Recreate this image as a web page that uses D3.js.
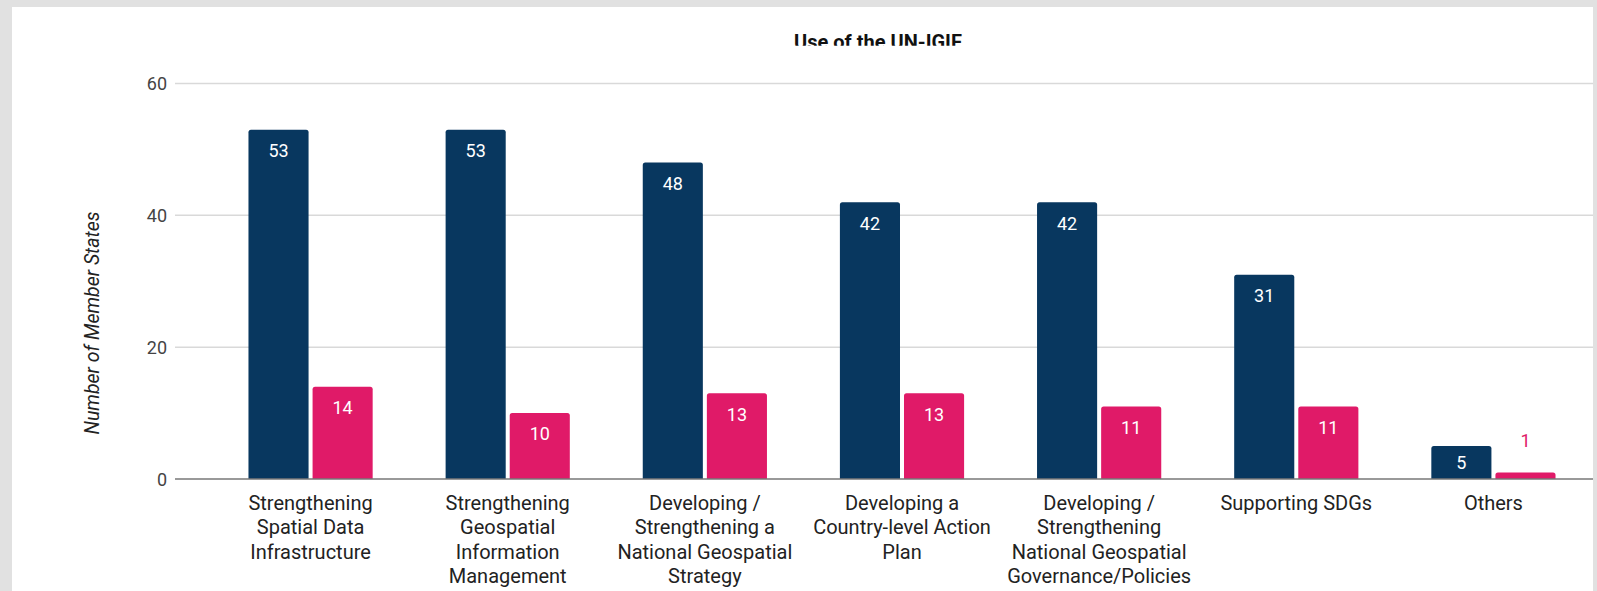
<!DOCTYPE html>
<html>
<head>
<meta charset="utf-8">
<script src="https://cdn.jsdelivr.net/npm/d3@7"></script>
<style>
  html, body { margin: 0; padding: 0; background: #e1e1e1; }
  svg { display: block; }
</style>
</head>
<body>
<svg id="chart" width="1597" height="591"></svg>
<script>
// ---- data ----
const categories = [
  "Strengthening Spatial Data Infrastructure",
  "Strengthening Geospatial Information Management",
  "Developing / Strengthening a National Geospatial Strategy",
  "Developing a Country-level Action Plan",
  "Developing / Strengthening National Geospatial Governance/Policies",
  "Supporting SDGs",
  "Others"
];
const categoryLines = [
  ["Strengthening", "Spatial Data", "Infrastructure"],
  ["Strengthening", "Geospatial", "Information", "Management"],
  ["Developing /", "Strengthening a", "National Geospatial", "Strategy"],
  ["Developing a", "Country-level Action", "Plan"],
  ["Developing /", "Strengthening", "National Geospatial", "Governance/Policies"],
  ["Supporting SDGs"],
  ["Others"]
];
const seriesNames = ["Series A", "Series B"];
const seriesA = [53, 53, 48, 42, 42, 31, 5];
const seriesB = [14, 10, 13, 13, 11, 11, 1];
const yTicks = [0, 20, 40, 60];
const title = "Use of the UN-IGIF";
const yTitle = "Number of Member States";
const colors = ["#08375f", "#e01a68"];

// ---- drawing ----
const svg = d3.select("#chart");
const W = 1597, H = 591;

// white panel
svg.append("rect").attr("x", 12).attr("y", 7).attr("width", 1593 - 12).attr("height", H - 7).attr("fill", "#ffffff");

const y = d3.scaleLinear().domain([0, 60]).range([479, 83.5]);
const x0 = d3.scaleBand().domain(categories).range([212, 1592]).paddingInner(0.37).paddingOuter(0.185);
const x1 = d3.scaleBand().domain(seriesNames).range([0, x0.bandwidth()]).paddingInner(0.0625).paddingOuter(0);

// gridlines
const gridX0 = 175, gridX1 = 1593;
svg.append("g").selectAll("line").data(yTicks.filter(t => t !== 0)).join("line")
  .attr("x1", gridX0).attr("x2", gridX1)
  .attr("y1", d => y(d)).attr("y2", d => y(d))
  .attr("stroke", "#d9d9d9").attr("stroke-width", 1.5);

// y axis labels via d3 axis
const yAxis = d3.axisLeft(y).tickValues(yTicks).tickSize(0).tickPadding(0);
const gy = svg.append("g").attr("transform", "translate(167,0)").call(yAxis);
gy.select(".domain").remove();
gy.selectAll("text")
  .attr("font-family", "Roboto, sans-serif")
  .attr("font-size", 18)
  .attr("fill", "#444")
  .attr("dy", "0.35em");

// bars
const data = categories.map((c, i) => ({ cat: c, vals: [
  { s: seriesNames[0], v: seriesA[i], ci: 0 },
  { s: seriesNames[1], v: seriesB[i], ci: 1 }
]}));

function topRounded(x, yt, w, h, r) {
  r = Math.min(r, h, w / 2);
  return `M${x},${yt + h} L${x},${yt + r} Q${x},${yt} ${x + r},${yt} L${x + w - r},${yt} Q${x + w},${yt} ${x + w},${yt + r} L${x + w},${yt + h} Z`;
}

const groups = svg.append("g").selectAll("g").data(data).join("g")
  .attr("transform", d => `translate(${x0(d.cat)},0)`);

groups.selectAll("path").data(d => d.vals).join("path")
  .attr("d", d => topRounded(x1(d.s), y(d.v), x1.bandwidth(), y(0) - y(d.v), 2.5))
  .attr("fill", d => colors[d.ci]);

// data labels
groups.selectAll("text.lbl").data(d => d.vals).join("text")
  .attr("class", "lbl")
  .attr("x", d => x1(d.s) + x1.bandwidth() / 2)
  .attr("y", d => {
    const h = y(0) - y(d.v);
    if (h < 26) return y(d.v) - 32 + 6.4;
    return y(d.v) + Math.min(21, h / 2) + 6.4;
  })
  .attr("text-anchor", "middle")
  .attr("font-family", "Roboto, sans-serif")
  .attr("font-size", 18)
  .attr("fill", d => (y(0) - y(d.v) < 26) ? colors[d.ci] : "#ffffff")
  .text(d => d.v);

// baseline
svg.append("line").attr("x1", gridX0).attr("x2", gridX1)
  .attr("y1", y(0)).attr("y2", y(0))
  .attr("stroke", "#777").attr("stroke-width", 1.5);

// x labels
const xl = svg.append("g").selectAll("text").data(categories).join("text")
  .attr("text-anchor", "middle")
  .attr("font-family", "Roboto, sans-serif")
  .attr("font-size", 20)
  .attr("fill", "#222")
  .attr("x", d => x0(d) + x0.bandwidth() / 2)
  .attr("y", 510);
xl.each(function(d, i) {
  const t = d3.select(this);
  const cx = x0(d) + x0.bandwidth() / 2;
  categoryLines[i].forEach((ln, j) => {
    t.append("tspan").attr("x", cx).attr("y", 510 + j * 24.4).text(ln);
  });
});

// y title
svg.append("text")
  .attr("transform", "translate(99,323) rotate(-90)")
  .attr("text-anchor", "middle")
  .attr("font-family", "Roboto, sans-serif")
  .attr("font-style", "italic")
  .attr("font-size", 19.5)
  .attr("fill", "#222")
  .text(yTitle);

// title (clipped at bottom as in the source)
svg.append("clipPath").attr("id", "tclip")
  .append("rect").attr("x", 0).attr("y", 0).attr("width", W).attr("height", 45.7);
svg.append("text")
  .attr("clip-path", "url(#tclip)")
  .attr("x", 878).attr("y", 49.3)
  .attr("text-anchor", "middle")
  .attr("font-family", "Roboto, sans-serif")
  .attr("font-weight", "bold")
  .attr("font-size", 20)
  .attr("fill", "#111")
  .text(title);
</script>
</body>
</html>
